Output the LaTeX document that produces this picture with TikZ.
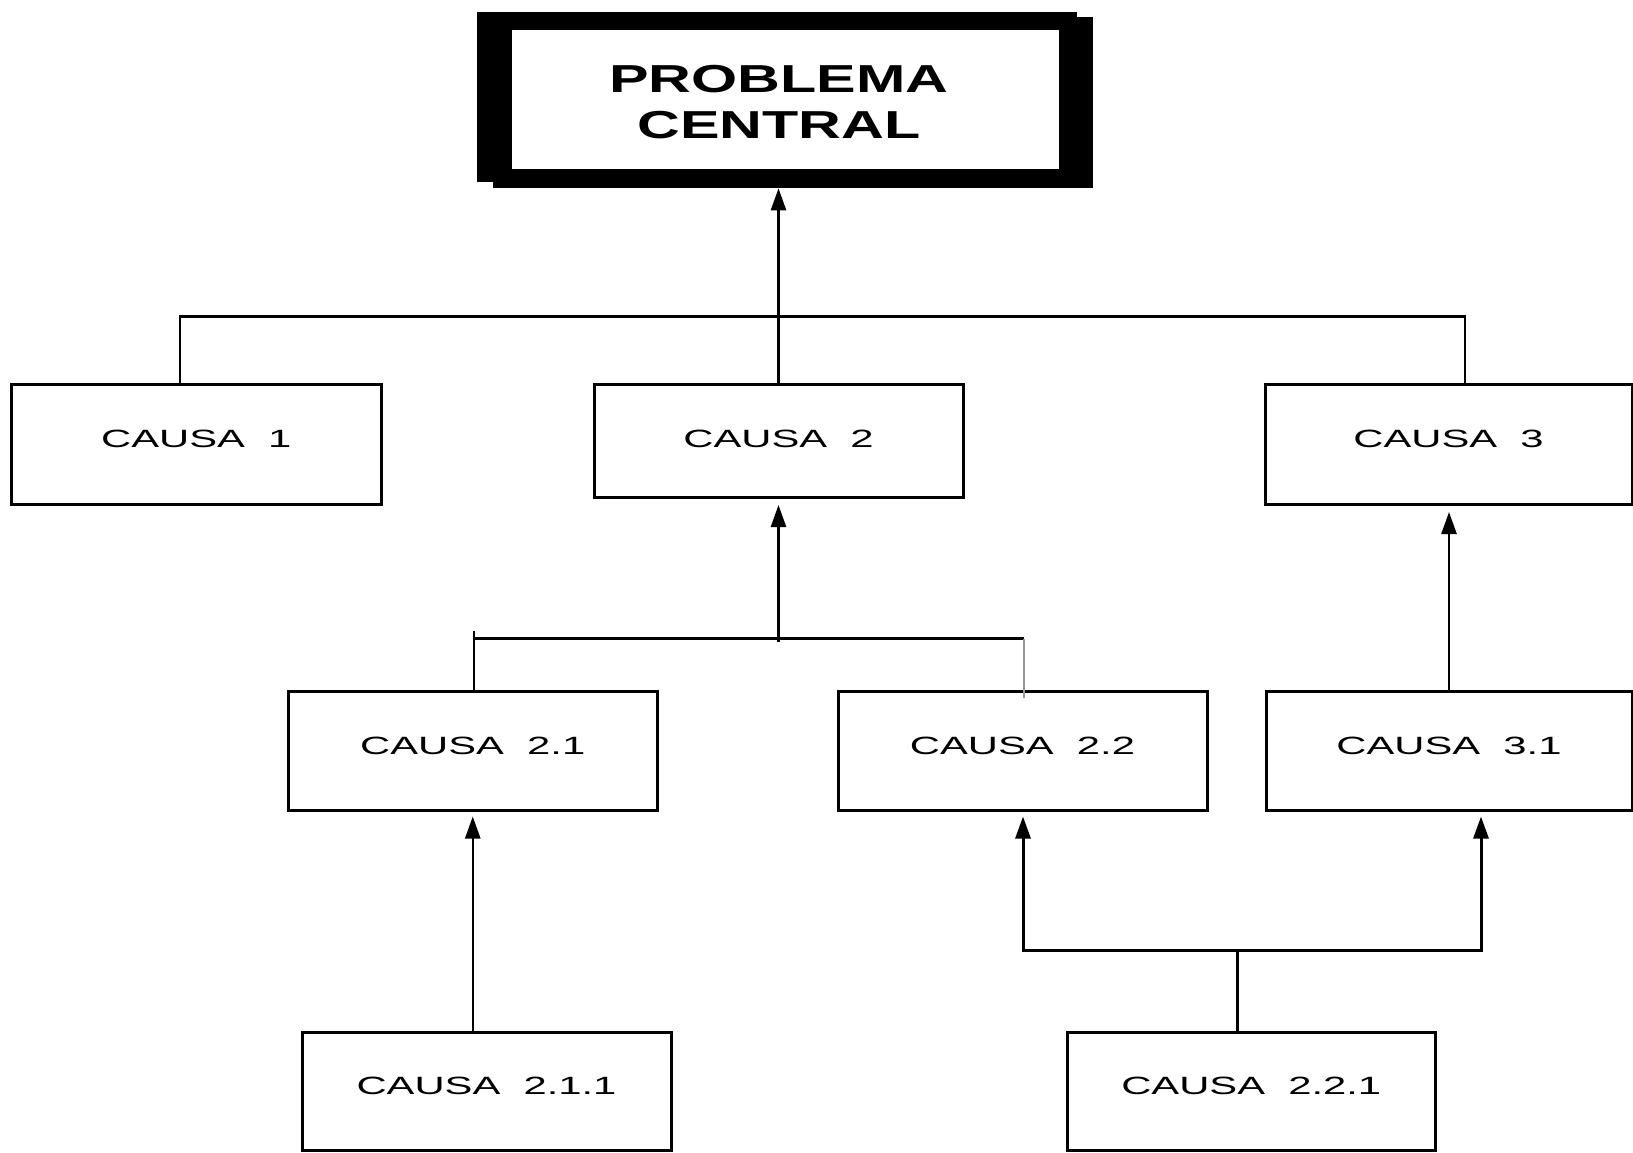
\documentclass[tikz,border=0pt]{standalone}
\usepackage{fontspec}
\setmainfont{Liberation Sans}
\newfontfamily\lblfont[FakeStretch=1.67]{Liberation Sans}
\newfontfamily\ttlfont[FakeStretch=1.52]{Liberation Sans}
\usetikzlibrary{arrows.meta}
\begin{document}
\begin{tikzpicture}[x=1pt,y=-1pt,
  causebox/.style={draw, line width=3pt, rectangle, inner sep=0pt, outer sep=0pt,
    font=\lblfont\fontsize{25}{30}\selectfont, text depth=10pt},
  conn/.style={line width=2.5pt},
  tipa/.tip={Triangle[length=22pt,width=15pt]},
  arr/.style={line width=2.5pt, -tipa, shorten >=7pt},
  frame/.style={fill=black, inner sep=0pt, outer sep=0pt}
]
\useasboundingbox (0,0) rectangle (1633,1152);

% central problem box
\node[frame, minimum width=599.7pt, minimum height=171pt] (pcs) at (792.85,102.8) {};
\node[frame, minimum width=600pt, minimum height=170.3pt] (pcm) at (776.7,96.85) {};
\node[fill=white, inner sep=0pt, minimum width=547pt, minimum height=139pt] (pc) at (785.5,99.5) {};
\node[inner sep=0pt, align=center,
  font=\ttlfont\bfseries\fontsize{39}{46}\selectfont] (pctext) at (779,102.5) {PROBLEMA\\CENTRAL};

% cause boxes
\node[causebox, minimum width=369.5pt, minimum height=120pt] (c1) at (196.25,444) {CAUSA~~1};
\node[causebox, minimum width=369pt, minimum height=113pt, text depth=3pt] (c2) at (778.5,440.5) {CAUSA~~2};
\node[causebox, minimum width=367pt, minimum height=120pt] (c3) at (1448.5,444) {CAUSA~~3};
\node[causebox, minimum width=368.5pt, minimum height=118.5pt] (c21) at (472.75,750.75) {CAUSA~~2.1};
\node[causebox, minimum width=369pt, minimum height=118.5pt] (c22) at (1022.5,750.75) {CAUSA~~2.2};
\node[causebox, minimum width=366pt, minimum height=118.5pt] (c31) at (1449,750.75) {CAUSA~~3.1};
\node[causebox, minimum width=369pt, minimum height=118pt] (c211) at (486.5,1091) {CAUSA~~2.1.1};
\node[causebox, minimum width=367.5pt, minimum height=118pt] (c221) at (1251.25,1091) {CAUSA~~2.2.1};

% top level tree
\coordinate (tL) at (180,316.6);
\coordinate (tR) at (1465,316.6);
\draw[conn] (c1.north -| tL) -- (tL) -- (tR) -- (c3.north -| tR);
\draw[arr, shorten >=0pt] (c2.north) -- (c2.north |- pcs.south);

% causa 2 tree
\coordinate (bL) at (474,638.5);
\coordinate (bLtop) at (474,631);
\coordinate (bR) at (1024,638.5);
\coordinate (bRend) at (1024,698);
\coordinate (bM) at (778.5,638.5);
\coordinate (bMlow) at (778.5,642);
\draw[conn] (bL) -- (bR);
\draw[line width=2pt] (bLtop) -- (c21.north -| bL);
\draw[line width=2pt, black!40] (bR) -- (bRend);
\draw[arr, shorten >=8pt] (bMlow) -- (c2.south);

% causa 3.1 -> causa 3
\draw[arr, shorten >=8pt] (c31.north) -- (c3.south -| c31.north);

% causa 2.1.1 -> causa 2.1
\draw[arr, shorten >=6.5pt] (c211.north -| c21.south) -- (c21.south);

% causa 2.2.1 -> causa 2.2 and causa 3.1
\coordinate (jb) at (1237,950.5);
\coordinate (dl) at (1023,950.5);
\coordinate (dr) at (1481,950.5);
\draw[line width=3pt] (c221.north -| jb) -- (jb);
\draw[line width=3pt, tipa-tipa, shorten <=6.5pt, shorten >=6.5pt]
  (c22.south -| dl) -- (dl) -- (dr) -- (c31.south -| dr);
\end{tikzpicture}
\end{document}
